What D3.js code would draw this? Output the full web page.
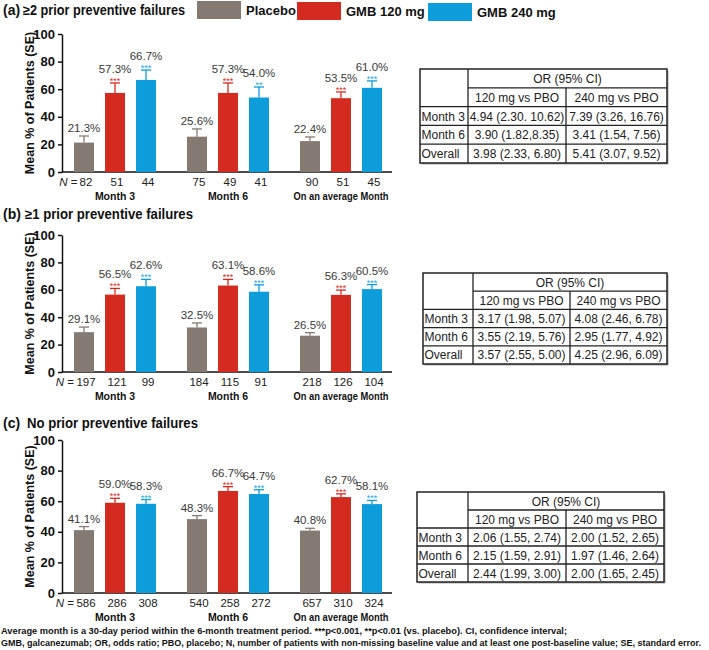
<!DOCTYPE html>
<html>
<head>
<meta charset="utf-8">
<script src="https://cdn.jsdelivr.net/npm/d3@7"></script>
<style>
  body { margin: 0; background: #fff; }
  svg { font-family: "Liberation Sans", Arial, sans-serif; }
</style>
</head>
<body>
<div id="chart"></div>
<script>
// =======================
// Data
// =======================
const groups = ["Month 3", "Month 6", "On an average Month"];
const series = ["Placebo", "GMB 120 mg", "GMB 240 mg"];
const seriesColors = ["#857a72", "#d42b20", "#0d9ddb"];
const starColors = ["#555", "#d42b20", "#1aa6e4"];
const yTicks = [0, 20, 40, 60, 80, 100];

// values per group: [placebo, 120 mg, 240 mg]
const valuesA = [[21.3, 57.3, 66.7], [25.6, 57.3, 54.0], [22.4, 53.5, 61.0]];
const seA = [[4.8, 7.2, 7.2], [5.6, 7.2, 7.6], [3.0, 4.5, 5.0]];
const nA = [[82, 51, 44], [75, 49, 41], [90, 51, 45]];
const starsA = [["", "***", "***"], ["", "***", "**"], ["", "***", "***"]];

const valuesB = [[29.1, 56.5, 62.6], [32.5, 63.1, 58.6], [26.5, 56.3, 60.5]];
const seB = [[3.7, 4.5, 5.0], [3.3, 4.5, 5.0], [2.2, 3.5, 3.3]];
const nB = [[197, 121, 99], [184, 115, 91], [218, 126, 104]];
const starsB = [["", "***", "***"], ["", "***", "***"], ["", "***", "***"]];

const valuesC = [[41.1, 59.0, 58.3], [48.3, 66.7, 64.7], [40.8, 62.7, 58.1]];
const seC = [[2.3, 2.9, 2.8], [2.3, 2.8, 2.8], [1.5, 2.1, 2.4]];
const nC = [[586, 286, 308], [540, 258, 272], [657, 310, 324]];
const starsC = [["", "***", "***"], ["", "***", "***"], ["", "***", "***"]];

// odds ratio tables
const tableTitle = "OR (95% CI)";
const tableCols = ["120 mg vs PBO", "240 mg vs PBO"];
const tableRows = ["Month 3", "Month 6", "Overall"];
const orA = [["4.94 (2.30. 10.62)", "7.39 (3.26, 16.76)"], ["3.90 (1.82,8.35)", "3.41 (1.54, 7.56)"], ["3.98 (2.33, 6.80)", "5.41 (3.07, 9.52)"]];
const orB = [["3.17 (1.98, 5.07)", "4.08 (2.46, 6.78)"], ["3.55 (2.19, 5.76)", "2.95 (1.77, 4.92)"], ["3.57 (2.55, 5.00)", "4.25 (2.96, 6.09)"]];
const orC = [["2.06 (1.55, 2.74)", "2.00 (1.52, 2.65)"], ["2.15 (1.59, 2.91)", "1.97 (1.46, 2.64)"], ["2.44 (1.99, 3.00)", "2.00 (1.65, 2.45)"]];

const footnotes = [
  "Average month is a 30-day period within the 6-month treatment period. ***p<0.001, **p<0.01 (vs. placebo). CI, confidence interval;",
  "GMB, galcanezumab; OR, odds ratio; PBO, placebo; N, number of patients with non-missing baseline value and at least one post-baseline value; SE, standard error."
];

// =======================
// SVG
// =======================
const width = 709, height = 650;
const svg = d3.select("#chart").append("svg")
  .attr("width", width)
  .attr("height", height);

const panels = [
  { tag: "(a)", title: "\u22652 prior preventive failures", titleX: 23, titleY: 15, titleLen: 162,
    values: valuesA, se: seA, n: nA, stars: starsA, or: orA,
    top: 34, bottom: 172, table: { x: 420, y: 69, cols: [48, 98, 101], rowH: 18.8 } },
  { tag: "(b)", title: "\u22651 prior preventive failures", titleX: 25, titleY: 219, titleLen: 168,
    values: valuesB, se: seB, n: nB, stars: starsB, or: orB,
    top: 235, bottom: 372, table: { x: 423, y: 273, cols: [50, 97, 97], rowH: 18.2 } },
  { tag: "(c)", title: "No prior preventive failures", titleX: 27, titleY: 428, titleLen: 171,
    values: valuesC, se: seC, n: nC, stars: starsC, or: orC,
    top: 440, bottom: 593, table: { x: 417, y: 492, cols: [51, 98, 98], rowH: 18 } }
];

const axisX = 62;
const x0 = d3.scaleBand().domain(groups).range([74, 382]).paddingInner(0.274).paddingOuter(0);
const x1 = d3.scaleBand().domain(series).range([0, x0.bandwidth()]).paddingInner(0.355).paddingOuter(0);

panels.forEach(p => {
  const g = svg.append("g");
  const y = d3.scaleLinear().domain([0, 100]).range([p.bottom, p.top]);

  // title
  g.append("text")
    .attr("x", 3).attr("y", p.titleY)
    .attr("font-size", 14).attr("font-weight", "bold").attr("fill", "#111")
    .text(p.tag);
  g.append("text")
    .attr("x", p.titleX).attr("y", p.titleY)
    .attr("font-size", 14).attr("font-weight", "bold").attr("fill", "#111")
    .attr("textLength", p.titleLen).attr("lengthAdjust", "spacingAndGlyphs")
    .text(p.title);

  // y axis
  const yAxis = g.append("g")
    .attr("transform", `translate(${axisX},0)`)
    .call(d3.axisLeft(y).tickValues(yTicks).tickSize(4).tickSizeOuter(0));
  yAxis.select(".domain").attr("stroke", "#111").attr("stroke-width", 1.5);
  yAxis.selectAll(".tick line").attr("stroke", "#111").attr("stroke-width", 1.5);
  yAxis.selectAll(".tick text")
    .attr("font-size", 13).attr("font-weight", "bold").attr("fill", "#111")
    .attr("font-family", "Liberation Sans, Arial, sans-serif");

  g.append("text")
    .attr("transform", `translate(34,${(p.top + p.bottom) / 2}) rotate(-90)`)
    .attr("text-anchor", "middle")
    .attr("font-size", 12.5).attr("font-weight", "bold").attr("fill", "#111")
    .text("Mean % of Patients (SE)");

  // x axis line
  g.append("line")
    .attr("x1", axisX).attr("x2", 392)
    .attr("y1", y(0)).attr("y2", y(0))
    .attr("stroke", "#111").attr("stroke-width", 1.5);

  groups.forEach((grp, gi) => {
    const gx = x0(grp);
    series.forEach((s, si) => {
      const v = p.values[gi][si];
      const e = p.se[gi][si];
      const bx = gx + x1(s);
      const cx = bx + x1.bandwidth() / 2;
      const col = seriesColors[si];

      // error bar
      g.append("line")
        .attr("x1", cx).attr("x2", cx)
        .attr("y1", y(v)).attr("y2", y(v + e))
        .attr("stroke", col).attr("stroke-width", 1.3);
      g.append("line")
        .attr("x1", cx - 5).attr("x2", cx + 5)
        .attr("y1", y(v + e)).attr("y2", y(v + e))
        .attr("stroke", col).attr("stroke-width", 1.3);

      // bar
      g.append("rect")
        .attr("x", bx).attr("y", y(v))
        .attr("width", x1.bandwidth()).attr("height", y(0) - y(v))
        .attr("fill", col);

      // labels
      const top = y(v + e);
      const star = p.stars[gi][si];
      if (star) {
        g.append("text")
          .attr("x", cx).attr("y", top + 1)
          .attr("text-anchor", "middle")
          .attr("font-size", 9).attr("fill", starColors[si])
          .text(star);
      }
      g.append("text")
        .attr("x", cx).attr("y", star ? top - 10 : top - 4)
        .attr("text-anchor", "middle")
        .attr("font-size", 11.5).attr("fill", "#3a3a3a")
        .text(v.toFixed(1) + "%");

      // N labels
      g.append("text")
        .attr("x", cx + 2).attr("y", y(0) + 14)
        .attr("text-anchor", "middle")
        .attr("font-size", 11.5).attr("fill", "#222")
        .text(p.n[gi][si]);
      if (gi === 0 && si === 0) {
        const nt = g.append("text")
          .attr("x", cx + 2 - String(p.n[gi][si]).length * 3.3 - 2).attr("y", y(0) + 14)
          .attr("text-anchor", "end")
          .attr("font-size", 11.5).attr("fill", "#222");
        nt.append("tspan").attr("font-style", "italic").text("N");
        nt.append("tspan").text(" =");
      }
    });

    const gl = g.append("text")
      .attr("x", gx + x0.bandwidth() / 2).attr("y", y(0) + 28)
      .attr("text-anchor", "middle")
      .attr("font-size", 10.5).attr("font-weight", "bold").attr("fill", "#111")
      .text(grp);
    if (grp.length > 10) gl.attr("textLength", 95).attr("lengthAdjust", "spacingAndGlyphs");
  });

  // OR table
  const t = p.table;
  const colX = [t.x, t.x + t.cols[0], t.x + t.cols[0] + t.cols[1]];
  const tw = d3.sum(t.cols);
  const th = t.rowH * 5;
  const tg = g.append("g");

  tg.append("rect")
    .attr("x", t.x + 1.5).attr("y", t.y + 1.5)
    .attr("width", tw).attr("height", th)
    .attr("fill", "#aaa");
  tg.append("rect")
    .attr("x", t.x).attr("y", t.y)
    .attr("width", tw).attr("height", th)
    .attr("fill", "#fff").attr("stroke", "#222").attr("stroke-width", 1.5);

  const lineAttr = sel => sel.attr("stroke", "#222").attr("stroke-width", 1.3);
  // horizontal lines
  tg.append("line").call(lineAttr)
    .attr("x1", colX[1]).attr("x2", t.x + tw)
    .attr("y1", t.y + t.rowH).attr("y2", t.y + t.rowH);
  [2, 3, 4].forEach(r => {
    tg.append("line").call(lineAttr)
      .attr("x1", t.x).attr("x2", t.x + tw)
      .attr("y1", t.y + t.rowH * r).attr("y2", t.y + t.rowH * r);
  });
  // vertical lines
  tg.append("line").call(lineAttr)
    .attr("x1", colX[1]).attr("x2", colX[1])
    .attr("y1", t.y).attr("y2", t.y + th);
  tg.append("line").call(lineAttr)
    .attr("x1", colX[2]).attr("x2", colX[2])
    .attr("y1", t.y + t.rowH).attr("y2", t.y + th);

  const cellText = (x, r, txt, anchor) => tg.append("text")
    .attr("x", x).attr("y", t.y + t.rowH * r + t.rowH / 2 + 4.5)
    .attr("text-anchor", anchor)
    .attr("font-size", 12).attr("fill", "#222")
    .text(txt);

  cellText(colX[1] + (t.cols[1] + t.cols[2]) / 2, 0, tableTitle, "middle");
  tableCols.forEach((c, ci) => cellText(colX[ci + 1] + t.cols[ci + 1] / 2, 1, c, "middle"));
  tableRows.forEach((rl, ri) => {
    cellText(t.x + 1.5, ri + 2, rl, "start");
    p.or[ri].forEach((v, ci) => cellText(colX[ci + 1] + t.cols[ci + 1] / 2, ri + 2, v, "middle"));
  });
});

// =======================
// Legend
// =======================
const legendItems = [
  { x: 197, y: 1 }, { x: 297, y: 2 }, { x: 428, y: 3 }
];
series.forEach((s, i) => {
  const li = legendItems[i];
  svg.append("rect")
    .attr("x", li.x).attr("y", li.y)
    .attr("width", 44).attr("height", 18)
    .attr("fill", seriesColors[i]);
  svg.append("text")
    .attr("x", li.x + 49).attr("y", li.y + 14)
    .attr("font-size", 13).attr("font-weight", "bold").attr("fill", "#111")
    .text(s);
});

// =======================
// Footnotes
// =======================
svg.selectAll(".foot")
  .data(footnotes)
  .enter()
  .append("text")
  .attr("class", "foot")
  .attr("x", 1)
  .attr("y", (d, i) => 634 + i * 12)
  .attr("font-size", 9).attr("font-weight", "bold").attr("fill", "#111")
  .attr("textLength", (d, i) => i === 0 ? 566 : 700)
  .attr("lengthAdjust", "spacingAndGlyphs")
  .text(d => d);
</script>
</body>
</html>
